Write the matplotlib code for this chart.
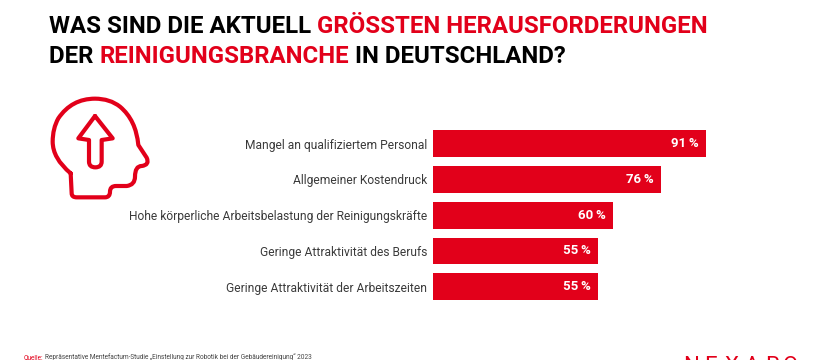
# coding: utf-8
import matplotlib
matplotlib.use("Agg")
import matplotlib.pyplot as plt
from matplotlib.path import Path
from matplotlib.patches import PathPatch

# ================= 数据 =================
categories = [
    "Mangel an qualifiziertem Personal",
    "Allgemeiner Kostendruck",
    "Hohe körperliche Arbeitsbelastung der Reinigungskräfte",
    "Geringe Attraktivität des Berufs",
    "Geringe Attraktivität der Arbeitszeiten",
]
values = [91, 76, 60, 55, 55]
value_labels = ["91\u2009%", "76\u2009%", "60\u2009%", "55\u2009%", "55\u2009%"]

title_line1 = [("WAS SIND DIE AKTUELL ", "black"), ("GRÖSSTEN HERAUSFORDERUNGEN", "#e2001a")]
title_line2 = [("DER ", "black"), ("REINIGUNGSBRANCHE", "#e2001a"), (" IN DEUTSCHLAND?", "black")]

RED = "#e2001a"
W, H = 820, 360

fig = plt.figure(figsize=(W / 100, H / 100), dpi=100, facecolor="white")

# 背景层，用像素坐标放文字和图标
bg = fig.add_axes([0, 0, 1, 1])
bg.set_xlim(0, W)
bg.set_ylim(H, 0)
bg.axis("off")


def draw_line(parts, x, y, size):
    # 分段写标题，每段接在上一段后面
    renderer = fig.canvas.get_renderer()
    for text, color in parts:
        t = bg.text(x, y, text.replace(" ", "\u00a0"), color=color, fontsize=size,
                    fontweight="bold", family="Roboto", va="baseline", ha="left")
        x = bg.transData.inverted().transform(t.get_window_extent(renderer).get_points())[1, 0]


draw_line(title_line1, 49, 33, 17.3)
draw_line(title_line2, 49, 63, 17.3)

# ================= 条形图 =================
# 每 1% 约 3 像素，左边从 x=433 开始
ax = fig.add_axes([433 / W, 1 - 304.7 / H, 300 / W, 179 / H])
ax.set_xlim(0, 100)
bars = ax.barh(range(len(values)), values, height=0.745, color=RED)
ax.set_ylim(len(values) - 0.5, -0.5)
ax.set_yticks(range(len(values)))
ax.set_yticklabels(categories, fontsize=8.65, color="#3a3a3a", family="Roboto")
ax.tick_params(axis="y", length=0, pad=4)
ax.set_xticks([])
for side in ax.spines.values():
    side.set_visible(False)
ax.patch.set_alpha(0)
for label in ax.bar_label(bars, labels=value_labels, label_type="edge", padding=-5, color="white",
                          fontsize=9.5, fontweight="bold", family="Roboto"):
    label.set_ha("right")

# ================= 头部图标 =================
# 坐标取自放大图：(30 + zx / 3, 90 + zy / 3)
def z(px, py):
    return (30 + px / 3, 90 + py / 3)


def icon_path(start, segments):
    # 两个点是二次曲线，一个点是直线
    pts = [z(*start)]
    codes = [Path.MOVETO]
    for seg in segments:
        if len(seg) == 2:
            pts.append(z(*seg))
            codes.append(Path.LINETO)
        else:
            pts += [z(seg[0], seg[1]), z(seg[2], seg[3])]
            codes += [Path.CURVE3, Path.CURVE3]
    return Path(pts, codes)


head = icon_path((122, 250), [
    (125, 310), (125, 322, 140, 322), (225, 322), (240, 322, 240, 305),
    (240, 288, 258, 288), (290, 288), (315, 285, 315, 260), (315, 228, 335, 228),
    (360, 225, 350, 203), (325, 165), (318, 90, 270, 50), (240, 26, 195, 26),
    (125, 26, 85, 85), (68, 115, 68, 155), (68, 205, 122, 250),
])
arrow = icon_path((195, 78), [
    (248, 145), (215, 150), (215, 215), (215, 232, 196, 232),
    (177, 232, 177, 215), (177, 150), (145, 145), (195, 78),
])
for p in (head, arrow):
    bg.add_patch(PathPatch(p, fill=False, edgecolor=RED, linewidth=3.0,
                           capstyle="round", joinstyle="round"))

# ================= 页脚 =================
bg.text(24, 359, "Quelle:", color=RED, fontsize=4.7, family="Roboto", va="baseline")
bg.text(45, 359, "Repräsentative Mentefactum-Studie „Einstellung zur Robotik bei der Gebäudereinigung“ 2023",
        color="#444444", fontsize=4.7, family="Roboto", va="baseline")
for letter, x in zip("NEXARO", [691, 711, 731, 752, 772, 790]):
    bg.text(x, 372, letter, color=RED, fontsize=16, family="Roboto", va="baseline", ha="center")

fig.savefig("out.png", dpi=100, facecolor="white")
